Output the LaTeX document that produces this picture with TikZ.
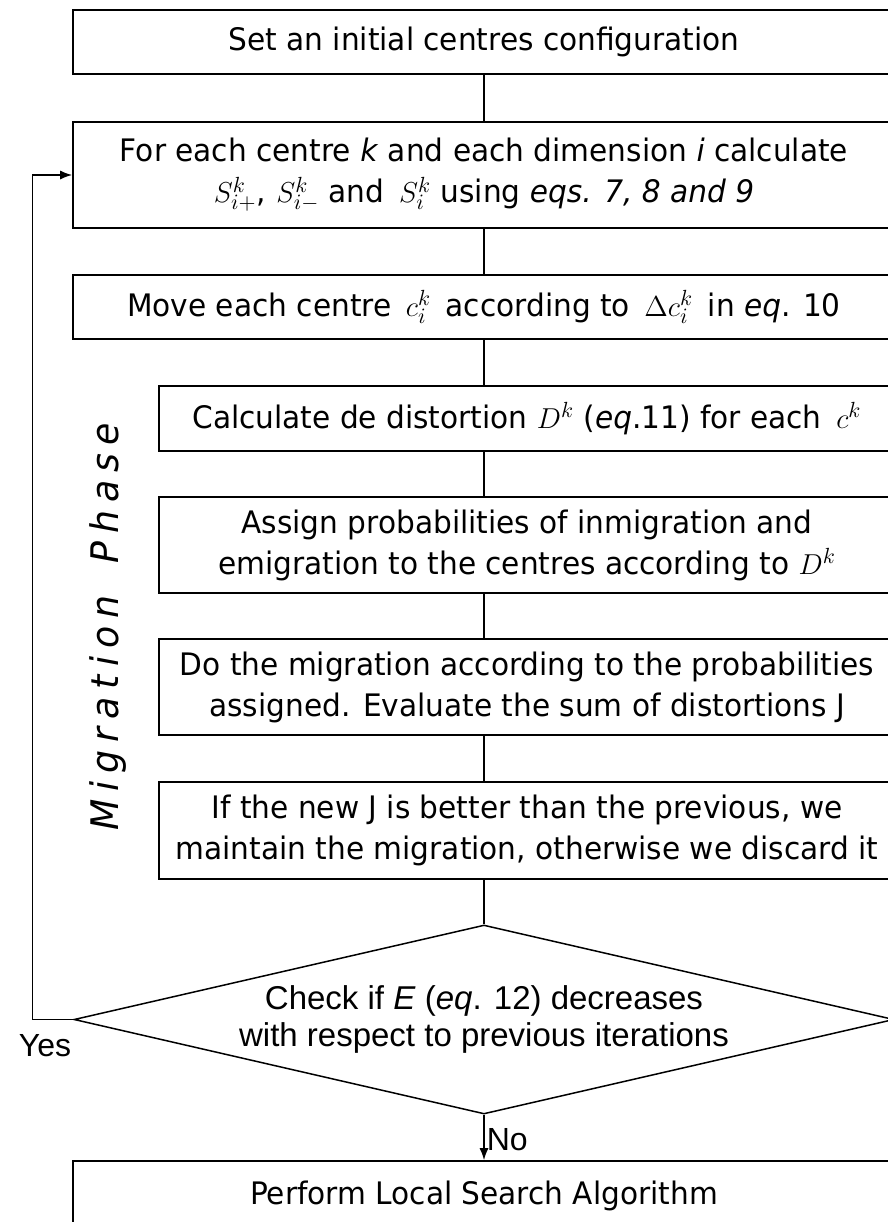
\documentclass[tikz,border=0pt]{standalone}
\usepackage{fontspec}
\setmainfont{DejaVu Sans}[FakeStretch=0.955]
\newfontfamily\arialfont{Liberation Sans}
\usetikzlibrary{shapes.geometric, arrows.meta}

\begin{document}
\begin{tikzpicture}[x=0.5pt, y=-0.5pt, line width=0.75pt, >={Latex[length=6pt,width=4.5pt]},
		box/.style={draw, line width=0.8pt, minimum width=411pt, inner sep=0pt, align=center, font=\fontsize{15.5}{20.5}\selectfont},
		inbox/.style={box, minimum width=368pt},
		decision/.style={draw, diamond, aspect=4.34, minimum width=410pt, minimum height=94.5pt, inner sep=0pt, align=center, font=\arialfont\fontsize{16.5}{18.5}\selectfont},
		lbl/.style={font=\arialfont\fontsize{16}{18}\selectfont, inner sep=1pt},
		phase/.style={font=\fontsize{19}{19}\selectfont\itshape\addfontfeature{LetterSpace=21}}]
		\useasboundingbox (0, 0) rectangle (888, 1222);
		\clip (0, 0) rectangle (888, 1222);
		% main column
		\node[box, minimum height=32pt] (init) at (484, 42) {Set an initial centres configuration};
		\node[box, minimum height=53pt] (calc) at (484, 175) {For each centre \textit{k} and each dimension \textit{i} calculate\\ $S^k_{i+}$,\,\,$S^k_{i-}$ and \,$S^k_i$ using \textit{eqs. 7, 8 and 9}};
		\node[box, minimum height=32pt] (move) at (484, 307) {Move each centre \,$c^k_i$\, according to \,$\Delta c^k_i$\, in \textit{eq}. 10};
		% migration phase
		\node[inbox, minimum height=32.5pt] (dist) at (527, 418.5) {Calculate de distortion $D^k$ (\textit{eq}.11) for each \,$c^k$};
		\node[inbox, minimum height=48pt] (prob) at (527, 545) {Assign probabilities of inmigration and\\ emigration to the centres according to $D^k$};
		\node[inbox, minimum height=48pt] (mig) at (527, 687) {Do the migration according to the probabilities\\ assigned. Evaluate the sum of distortions J};
		\node[inbox, minimum height=48.5pt] (keep) at (527, 830.5) {If the new J is better than the previous, we\\ maintain the migration, otherwise we discard it};
		\node[phase, rotate=90] (phasetxt) at (108, 627) {Migration\hspace{16pt}Phase};
		% test and end
		\node[decision] (check) at (484, 1019.5) {Check if \textit{E} (\textit{eq}. 12) decreases\\ with respect to previous iterations};
		\node[box, minimum height=35pt] (search) at (484, 1196) {Perform Local Search Algorithm};
		\node[lbl] (yes) at (45, 1046) {Yes};
		% connectors
		\draw (init) -- (calc);
		\draw (calc) -- (move);
		\draw (move) -- (move |- dist.north);
		\draw (dist.south -| move) -- (prob.north -| move);
		\draw (prob.south -| move) -- (mig.north -| move);
		\draw (mig.south -| move) -- (keep.north -| move);
		\draw (keep.south -| move) -- (check);
		\draw[->] (check.west) -- ++(-41, 0) |- (calc.west);
		\draw[->] (check) -- node[lbl, right, pos=0.55] {No} (search);
	\end{tikzpicture}
\end{document}
